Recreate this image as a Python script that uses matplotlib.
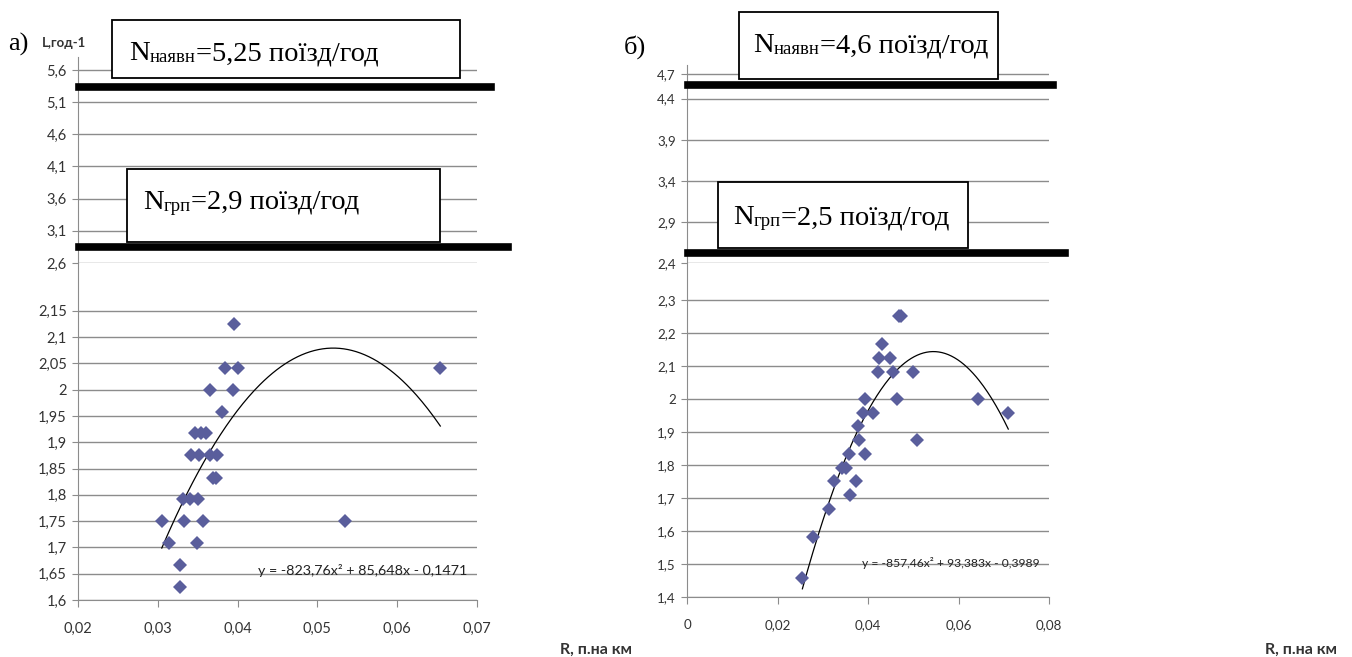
import matplotlib
matplotlib.use('Agg')
import matplotlib.pyplot as plt
import numpy as np
from matplotlib.patches import Rectangle
from matplotlib.text import Annotation

plt.rcParams['font.family'] = ['Lato', 'DejaVu Sans']

# panel a) data
a_x = [0.0305, 0.0314, 0.0328, 0.0328, 0.0333, 0.0332, 0.0340, 0.0350, 0.0342, 0.0352,
       0.0347, 0.0354, 0.0360, 0.0349, 0.0357, 0.0365, 0.0366, 0.0374, 0.0369, 0.0373,
       0.0380, 0.0384, 0.0394, 0.0396, 0.0400, 0.0534, 0.0654]
a_y = [1.75, 1.708, 1.667, 1.625, 1.75, 1.792, 1.792, 1.792, 1.875, 1.875,
       1.917, 1.917, 1.917, 1.708, 1.75, 2.0, 1.875, 1.875, 1.833, 1.833,
       1.958, 2.042, 2.0, 2.125, 2.042, 1.75, 2.042]
a_coef = [-823.76, 85.648, -0.1471]
a_levels = [5.33, 2.85]          # N наявн, N грп lines
a_xticks = [0.02, 0.03, 0.04, 0.05, 0.06, 0.07]
a_yticks_low = [1.6, 1.65, 1.7, 1.75, 1.8, 1.85, 1.9, 1.95, 2.0, 2.05, 2.1, 2.15]
a_yticks_up = [2.6, 3.1, 3.6, 4.1, 4.6, 5.1, 5.6]
a_eq = 'y = -823,76x² + 85,648x - 0,1471'
a_n1 = ('N', 'наявн', '=5,25 поїзд/год')
a_n2 = ('N', 'грп', '=2,9 поїзд/год')

# panel б) data
b_x = [0.0255, 0.0278, 0.0314, 0.0325, 0.0343, 0.0352, 0.0359, 0.0361, 0.0373, 0.0379,
       0.0381, 0.0389, 0.0394, 0.0393, 0.0411, 0.0421, 0.0424, 0.0430, 0.0448, 0.0455,
       0.0463, 0.0468, 0.0472, 0.0499, 0.0508, 0.0644, 0.0710]
b_y = [1.458, 1.583, 1.667, 1.75, 1.792, 1.792, 1.833, 1.708, 1.75, 1.917,
       1.875, 1.958, 2.0, 1.833, 1.958, 2.083, 2.125, 2.167, 2.125, 2.083,
       2.0, 2.25, 2.25, 2.083, 1.875, 2.0, 1.958]
b_coef = [-857.46, 93.383, -0.3989]
b_levels = [4.57, 2.52]
b_xticks = [0, 0.02, 0.04, 0.06, 0.08]
b_yticks_low = [1.4, 1.5, 1.6, 1.7, 1.8, 1.9, 2.0, 2.1, 2.2, 2.3]
b_yticks_up = [2.4, 2.9, 3.4, 3.9, 4.4, 4.7]
b_eq = 'y = -857,46x² + 93,383x - 0,3989'
b_n1 = ('N', 'наявн', '=4,6 поїзд/год')
b_n2 = ('N', 'грп', '=2,5 поїзд/год')

W, H = 1352, 657
GRID = '#8c8c8c'
TXT = '#333333'
MARK = '#5a5e9c'
SERIF = 'Liberation Serif'


def fx(px):
    return px / W


def fy(py):
    return 1 - py / H


def comma(v):
    return ('%g' % round(v, 4)).replace('.', ',')


fig = plt.figure(figsize=(W / 100, H / 100), dpi=100)


def style_axis(ax, yticks, fs):
    ax.set_yticks(yticks)
    ax.set_yticklabels([comma(v) for v in yticks])
    ax.yaxis.grid(True, color=GRID, lw=1.0)
    ax.set_axisbelow(True)
    ax.tick_params(axis='y', direction='out', length=4, color=GRID,
                   labelsize=fs, labelcolor=TXT, pad=4)
    for s in ['top', 'right']:
        ax.spines[s].set_visible(False)
    ax.spines['left'].set_color(GRID)
    ax.spines['bottom'].set_color(GRID)


def label_box(x0, y0, x1, y1, tx, base, parts):
    # white box with a text "N" + subscript + rest
    fig.add_artist(Rectangle((fx(x0), fy(y1)), fx(x1) - fx(x0), fy(y0) - fy(y1),
                             transform=fig.transFigure, facecolor='white',
                             edgecolor='black', lw=1.3, zorder=5))
    t1 = fig.text(fx(tx), fy(base), parts[0], fontsize=20.5, family=SERIF,
                  va='baseline', zorder=6)
    t2 = Annotation(parts[1], xy=(1, 0), xycoords=t1, va='bottom', ha='left',
                    fontsize=13.5, family=SERIF, zorder=6)
    fig.add_artist(t2)
    t3 = Annotation(parts[2], xy=(1, 0), xycoords=(t2, t1), va='bottom', ha='left',
                    fontsize=20.5, family=SERIF, zorder=6)
    fig.add_artist(t3)


def panel(left, right, bottom, join, top, xlim, ylim_low, ylim_up, xticks,
          yt_low, yt_up, xs, ys, coef, levels, line_ends, eq, eq_pos, fs, eq_fs):
    w = fx(right) - fx(left)
    ax_lo = fig.add_axes([fx(left), fy(bottom), w, (bottom - join) / H])
    ax_up = fig.add_axes([fx(left), fy(join), w, (join - top) / H])

    ax_lo.set_xlim(*xlim)
    ax_lo.set_ylim(*ylim_low)
    style_axis(ax_lo, yt_low, fs)
    ax_lo.set_xticks(xticks)
    ax_lo.set_xticklabels([comma(v) for v in xticks])
    ax_lo.tick_params(axis='x', direction='out', length=5, color=GRID,
                      labelsize=fs, labelcolor=TXT, pad=11)

    ax_up.set_xlim(*xlim)
    ax_up.set_ylim(*ylim_up)
    style_axis(ax_up, yt_up, fs)
    ax_up.xaxis.set_visible(False)
    ax_up.spines['bottom'].set_visible(False)

    ax_lo.plot(xs, ys, 'D', color=MARK, ms=7, mew=0, zorder=3)
    xx = np.linspace(min(xs), max(xs), 200)
    ax_lo.plot(xx, np.polyval(coef, xx), color='black', lw=0.9, zorder=2)
    ax_lo.text(eq_pos[0], eq_pos[1], eq, transform=ax_lo.transAxes,
               fontsize=eq_fs, color='#222222', va='center', ha='left', zorder=4)

    for lev, xe in zip(levels, line_ends):
        ax_up.axhline(lev, xmin=0.002, xmax=xe, color='black', lw=5.5,
                      clip_on=False, zorder=4)
    return ax_lo, ax_up


panel(78, 477, 600, 263, 57, (0.02, 0.07), (1.6, 2.241), (2.6, 5.802),
      a_xticks, a_yticks_low, a_yticks_up, a_x, a_y, a_coef, a_levels,
      [1.035, 1.078], a_eq, (0.451, 0.089), 10.5, 10.3)

panel(687, 1049, 597, 263, 65, (0, 0.08), (1.4, 2.412), (2.4, 4.809),
      b_xticks, b_yticks_low, b_yticks_up, b_x, b_y, b_coef, b_levels,
      [1.012, 1.044], b_eq, (0.483, 0.102), 9.6, 8.7)

label_box(112, 20, 460, 78, 129, 60, a_n1)
label_box(127, 169, 440, 242, 143, 209, a_n2)
label_box(739, 12, 998, 79, 753, 52, b_n1)
label_box(718, 182, 968, 248, 733, 224, b_n2)

fig.text(fx(8), fy(44), 'а)', fontsize=19, family=SERIF, va='center')
fig.text(fx(624), fy(47), 'б)', fontsize=19, family=SERIF, va='center')
fig.text(fx(42), fy(43), 'L,год-1', fontsize=9.5, fontweight='bold', color=TXT, va='center')
fig.text(fx(560), fy(650), 'R, п.на км', fontsize=11.5, fontweight='bold', color=TXT, va='center')
fig.text(fx(1265), fy(650), 'R, п.на км', fontsize=11.5, fontweight='bold', color=TXT, va='center')

fig.savefig('out.png', dpi=100)
